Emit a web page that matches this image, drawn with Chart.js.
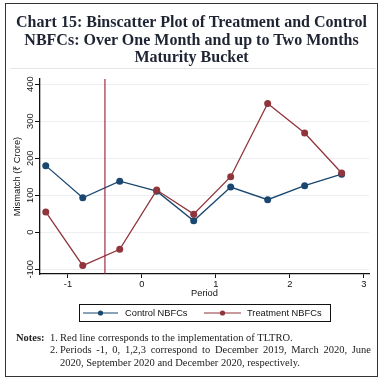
<!DOCTYPE html>
<html>
<head>
<meta charset="utf-8">
<script src="https://cdn.jsdelivr.net/npm/chart.js@4.4.0/dist/chart.umd.min.js"></script>
<style>
  html, body { margin:0; padding:0; background:#fff; }
  #wrap { position:relative; width:383px; height:383px; overflow:hidden; background:#fff; }
  #frame { position:absolute; left:4.5px; top:2.5px; width:373.5px; height:374.5px; border:1.5px solid #333; box-sizing:border-box; pointer-events:none; }
  #sep { position:absolute; left:10px; top:68px; width:365px; height:1px; background:#e6e6e6; }
  #title { position:absolute; left:0; top:13.25px; width:383px; text-align:center;
           font-family:'Liberation Serif', 'Times New Roman', serif; font-weight:bold; font-size:16px;
           line-height:17.5px; color:#1f2433; }
  #canvasBox { position:absolute; left:0; top:0; width:383px; height:383px; }
  #notes { position:absolute; left:16px; top:332px; width:355px;
           font-family:'Liberation Serif', 'Times New Roman', serif; font-size:10.5px; line-height:12.3px; color:#222; }
  .note { position:relative; padding-left:44px; }
  .note .lab { position:absolute; left:0; top:0; font-weight:bold; }
  .note .num { position:absolute; left:34px; top:0; }
  .jl { display:block; white-space:nowrap; text-align:justify; text-align-last:justify; }
</style>
</head>
<body>
<div id="wrap">
  <div id="canvasBox"><canvas id="c"></canvas></div>
  <div id="sep"></div>
  <div id="title">Chart 15: Binscatter Plot of Treatment and Control<br>NBFCs: Over One Month and up to Two Months<br>Maturity Bucket</div>
  <div id="notes">
    <div class="note"><span class="lab">Notes:</span><span class="num">1.</span>Red line corresponds to the implementation of TLTRO.</div>
    <div class="note"><span class="num">2.</span><span class="jl">Periods -1, 0, 1,2,3 correspond to December 2019, March 2020, June</span>2020, September 2020 and December 2020, respectively.</div>
  </div>
  <div id="frame"></div>
</div>
<script>
// ---- data ----
const periods = [-1.3, -0.8, -0.3, 0.2, 0.7, 1.2, 1.7, 2.2, 2.7];
const controlValues = [180, 93, 138, 111, 31, 122, 88, 126, 157];
const treatmentValues = [55, -90, -46, 114, 49, 150, 348, 268, 160];
const seriesNames = ['Control NBFCs', 'Treatment NBFCs'];
const xTicks = [-1, 0, 1, 2, 3];
const yTicks = [-100, 0, 100, 200, 300, 400];
const tltroPeriod = -0.5;
const xRange = [-1.378, 3.07];
const yRange = [-112.7, 414];

const NAVY = '#1a476f';
const MAROON = '#90353b';
const VLINE = '#981a32';
const FONT = "'Liberation Sans', Arial, sans-serif";
Chart.defaults.font.family = FONT;

const toXY = (xs, ys) => xs.map((x, i) => ({x: x, y: ys[i]}));

const yTickLabels = {
  id: 'yTickLabels',
  afterDraw(chart) {
    const s = chart.scales.y, ctx = chart.ctx;
    ctx.save();
    ctx.fillStyle = '#111';
    ctx.font = '9.3px ' + FONT;
    ctx.textAlign = 'center';
    ctx.textBaseline = 'middle';
    yTicks.forEach(v => {
      const py = s.getPixelForValue(v);
      ctx.save();
      ctx.translate(30, py);
      ctx.rotate(-Math.PI / 2);
      ctx.fillText(String(v), 0, 0);
      ctx.restore();
    });
    ctx.restore();
  }
};

const customLegend = {
  id: 'customLegend',
  afterDraw(chart) {
    const ctx = chart.ctx;
    ctx.save();
    ctx.strokeStyle = '#111';
    ctx.lineWidth = 1;
    ctx.strokeRect(79.5, 304.5, 251, 17);
    const items = [
      {name: seriesNames[0], color: NAVY, x0: 83, x1: 118, tx: 125},
      {name: seriesNames[1], color: MAROON, x0: 204, x1: 241, tx: 247}
    ];
    const cy = 313;
    ctx.font = '9.3px ' + FONT;
    ctx.textBaseline = 'middle';
    ctx.textAlign = 'left';
    items.forEach(it => {
      ctx.strokeStyle = it.color;
      ctx.lineWidth = 1.2;
      ctx.beginPath(); ctx.moveTo(it.x0, cy); ctx.lineTo(it.x1, cy); ctx.stroke();
      ctx.fillStyle = it.color;
      ctx.beginPath(); ctx.arc((it.x0 + it.x1) / 2, cy, 2.6, 0, Math.PI * 2); ctx.fill();
      ctx.fillStyle = '#111';
      ctx.fillText(it.name, it.tx, cy + 0.5);
    });
    ctx.restore();
  }
};

new Chart(document.getElementById('c'), {
  type: 'line',
  data: {
    datasets: [
      {
        label: 'TLTRO',
        data: [{x: tltroPeriod, y: yRange[0]}, {x: tltroPeriod, y: yRange[1]}],
        borderColor: VLINE, borderWidth: 1.1, pointRadius: 0, order: 0
      },
      {
        label: seriesNames[1],
        data: toXY(periods, treatmentValues),
        borderColor: MAROON, backgroundColor: MAROON, borderWidth: 1.3,
        pointRadius: 3.5, pointBorderWidth: 0, pointBackgroundColor: MAROON, order: 1
      },
      {
        label: seriesNames[0],
        data: toXY(periods, controlValues),
        borderColor: NAVY, backgroundColor: NAVY, borderWidth: 1.3,
        pointRadius: 3.5, pointBorderWidth: 0, pointBackgroundColor: NAVY, order: 2
      }
    ]
  },
  options: {
    responsive: true,
    maintainAspectRatio: false,
    animation: false,
    events: [],
    layout: { padding: { top: 79, left: 0, right: 14, bottom: 84 } },
    plugins: { legend: { display: false }, tooltip: { enabled: false }, title: { display: false } },
    scales: {
      x: {
        type: 'linear', min: xRange[0], max: xRange[1],
        afterBuildTicks: s => { s.ticks = xTicks.map(v => ({value: v})); },
        afterFit: s => { s.height = 25; },
        grid: { drawOnChartArea: false, tickLength: 4, tickColor: '#111', tickWidth: 1 },
        border: { color: '#111', width: 1.3 },
        ticks: { color: '#111', font: { size: 9.3 }, padding: 1, maxRotation: 0, autoSkip: false },
        title: { display: true, text: 'Period', color: '#111', font: { size: 9.3 }, padding: { top: 0, bottom: 0 } }
      },
      y: {
        type: 'linear', min: yRange[0], max: yRange[1],
        afterBuildTicks: s => { s.ticks = yTicks.map(v => ({value: v})); },
        afterFit: s => { s.width = 40; },
        grid: { color: '#eceff1', lineWidth: 1, tickLength: 5, tickColor: '#111', tickWidth: 1 },
        border: { color: '#111', width: 1.3 },
        ticks: { display: false },
        title: { display: true, text: 'Mismatch (₹ Crore)', color: '#111', font: { size: 9.3 }, padding: { top: 12, bottom: 0 } }
      }
    }
  },
  plugins: [yTickLabels, customLegend]
});
</script>
</body>
</html>
